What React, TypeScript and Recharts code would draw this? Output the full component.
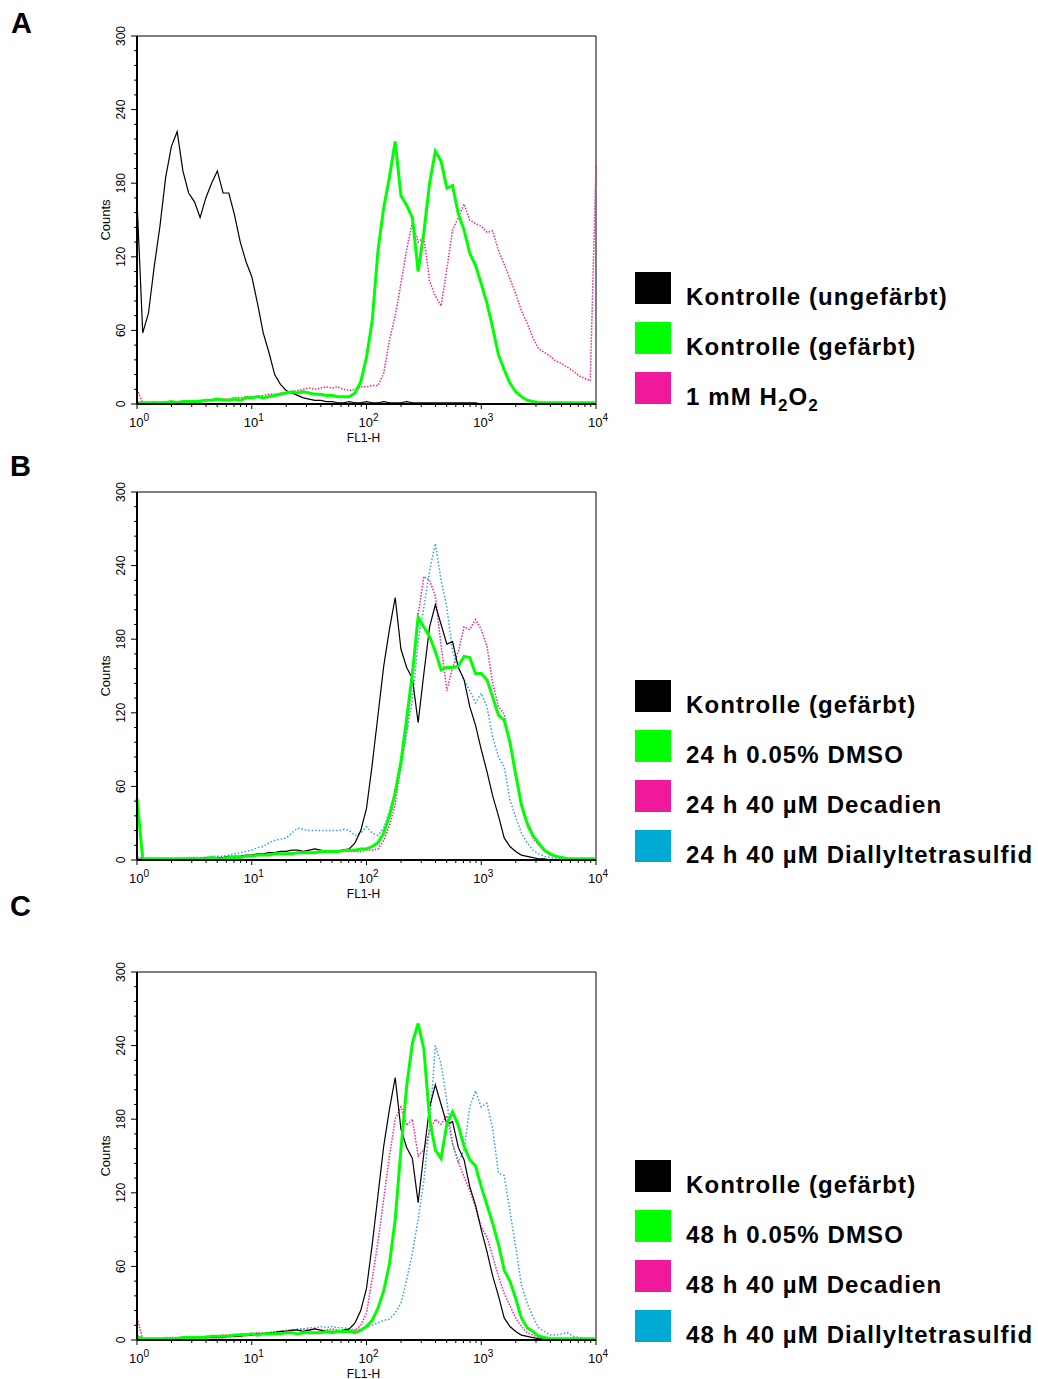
import React from 'react';
import { LineChart, Line, XAxis, YAxis, ReferenceLine } from 'recharts';

// x = log10(FL1-H), read every 0.05 decade
const xs = Array.from({ length: 81 }, (_, i) => +(i * 0.05).toFixed(2));

// y-axis ticks (counts) and x-axis tick positions (log decades, minor 2..9)
const yTicks = [0, 12, 24, 36, 48, 60, 72, 84, 96, 108, 120, 132, 144, 156, 168, 180, 192, 204, 216, 228, 240, 252, 264, 276, 288, 300];
const decades = [0, 1, 2, 3];
const xTicks = [...decades.flatMap((d) => [1, 2, 3, 4, 5, 6, 7, 8, 9].map((k) => d + Math.log10(k))), 4];

// Panel A
const aUnstained = [166, 58, 74, 112, 145, 185, 210, 222, 190, 172, 165, 152, 168, 180, 190, 172, 172, 154, 132, 116, 104, 82, 58, 42, 24, 16, 11, 9, 7, 5, 4, 3, 3, 2, 2, 1, 1, 2, 1, 1, 2, 1, 1, 2, 1, 1, 1, 2, 1, 1, 1, 1, 1, 1, 1, 1, 1, 1, 1, 1, 0, 0, 0, 0, 0, 0, 0, 0, 0, 0, 0, 0, 0, 0, 0, 0, 0, 0, 0, 0, 0];
const aStained = [1, 1, 1, 1, 1, 1, 2, 1, 2, 2, 2, 2, 3, 3, 4, 3, 3, 4, 3, 5, 5, 6, 5, 6, 7, 8, 9, 10, 9, 10, 9, 8, 8, 7, 7, 6, 6, 6, 9, 18, 38, 68, 125, 160, 185, 214, 170, 162, 152, 108, 140, 180, 206, 198, 176, 178, 155, 142, 123, 113, 98, 82, 62, 40, 28, 17, 10, 6, 3, 2, 1, 1, 1, 1, 1, 1, 1, 1, 1, 1, 1];
const aH2O2 = [12, 1, 1, 2, 1, 2, 1, 2, 2, 2, 2, 3, 3, 3, 4, 4, 4, 5, 5, 6, 6, 6, 7, 8, 8, 9, 9, 10, 11, 12, 13, 12, 13, 14, 13, 14, 12, 11, 12, 14, 14, 15, 15, 25, 52, 72, 98, 126, 148, 132, 136, 100, 88, 80, 110, 142, 152, 163, 150, 147, 145, 140, 141, 125, 114, 102, 90, 76, 66, 54, 45, 42, 39, 35, 33, 30, 27, 23, 21, 19, 194];

// Panel B and C share the stained control
const ctrlStained = [1, 0, 1, 0, 1, 1, 1, 1, 1, 1, 1, 1, 2, 2, 2, 2, 3, 3, 3, 4, 4, 5, 5, 6, 6, 7, 7, 8, 8, 7, 8, 9, 8, 7, 7, 7, 8, 9, 14, 24, 42, 78, 118, 158, 188, 214, 172, 157, 148, 112, 152, 190, 208, 192, 176, 178, 157, 147, 125, 110, 90, 72, 52, 36, 18, 11, 7, 4, 3, 2, 1, 1, 0, 0, 0, 0, 0, 0, 0, 0, 0];
const bDmso = [50, 1, 1, 1, 1, 1, 1, 1, 1, 1, 1, 1, 1, 2, 1, 1, 2, 2, 2, 3, 3, 4, 4, 4, 5, 5, 5, 5, 6, 6, 6, 6, 7, 7, 7, 7, 8, 8, 8, 9, 9, 11, 14, 22, 36, 55, 80, 115, 152, 198, 190, 182, 170, 155, 157, 157, 158, 166, 165, 152, 152, 147, 133, 118, 114, 96, 70, 45, 30, 20, 14, 8, 5, 3, 2, 1, 1, 1, 1, 1, 1];
const bDecadien = [3, 1, 1, 1, 1, 1, 1, 1, 1, 1, 2, 1, 2, 2, 2, 2, 2, 3, 3, 3, 3, 4, 4, 4, 5, 5, 5, 6, 6, 6, 6, 7, 6, 7, 7, 6, 7, 7, 7, 7, 8, 8, 9, 16, 28, 45, 78, 105, 150, 200, 231, 228, 215, 175, 138, 157, 170, 190, 188, 196, 188, 174, 144, 125, 119, 95, 68, 45, 28, 18, 12, 7, 4, 3, 2, 1, 1, 1, 1, 1, 1];
const bDats = [2, 1, 1, 1, 1, 1, 1, 1, 1, 2, 2, 2, 2, 3, 3, 3, 4, 5, 6, 7, 8, 10, 11, 14, 16, 17, 18, 22, 26, 25, 24, 24, 24, 24, 24, 24, 25, 24, 20, 22, 27, 22, 20, 26, 40, 55, 74, 103, 130, 178, 206, 236, 258, 228, 206, 170, 157, 147, 138, 128, 136, 125, 100, 84, 76, 49, 35, 22, 14, 8, 5, 3, 2, 1, 1, 1, 1, 1, 1, 1, 1];

// Panel C
const cDmso = [3, 1, 1, 1, 1, 1, 1, 1, 2, 2, 2, 2, 2, 3, 3, 3, 3, 4, 4, 4, 5, 4, 5, 5, 5, 5, 6, 6, 5, 6, 6, 6, 6, 7, 6, 7, 7, 7, 6, 8, 11, 16, 26, 40, 62, 98, 155, 207, 242, 258, 237, 180, 155, 148, 176, 186, 175, 158, 147, 142, 125, 110, 95, 78, 57, 48, 34, 18, 10, 7, 3, 2, 1, 1, 1, 1, 1, 1, 1, 1, 1];
const cDecadien = [18, 1, 1, 1, 1, 2, 2, 2, 2, 2, 2, 2, 3, 3, 3, 4, 4, 4, 5, 5, 5, 6, 6, 6, 7, 7, 8, 8, 8, 9, 8, 9, 8, 8, 9, 8, 8, 8, 8, 12, 22, 50, 80, 115, 150, 180, 190, 175, 180, 150, 155, 170, 180, 176, 183, 160, 145, 133, 122, 108, 92, 84, 68, 52, 38, 28, 18, 11, 6, 4, 2, 1, 1, 1, 1, 1, 1, 1, 1, 1, 1];
const cDats = [3, 1, 1, 1, 1, 1, 1, 2, 2, 2, 2, 2, 3, 3, 3, 3, 3, 4, 4, 4, 5, 5, 5, 6, 6, 7, 7, 8, 9, 9, 10, 10, 11, 10, 11, 10, 10, 9, 8, 9, 11, 12, 14, 16, 17, 22, 30, 49, 71, 98, 130, 175, 240, 225, 195, 160, 145, 155, 190, 203, 190, 193, 172, 136, 134, 105, 76, 45, 30, 19, 10, 7, 4, 4, 5, 6, 3, 2, 1, 1, 1];

const BLACK = '#000000';
const GREEN = '#00ff00';
const PINK = '#f0259a';
const BLUE = '#2e9cf0';

type Series = { key: string; values: number[]; color: string; width: number; dash?: string };

const panelA: Series[] = [
  { key: 'h2o2', values: aH2O2, color: PINK, width: 1.5, dash: '1.5 1.5' },
  { key: 'unstained', values: aUnstained, color: BLACK, width: 1.2 },
  { key: 'stained', values: aStained, color: GREEN, width: 3 },
];
const panelB: Series[] = [
  { key: 'decadien', values: bDecadien, color: PINK, width: 1.5, dash: '1.5 1.5' },
  { key: 'dats', values: bDats, color: BLUE, width: 1.5, dash: '1.5 2' },
  { key: 'ctrl', values: ctrlStained, color: BLACK, width: 1.2 },
  { key: 'dmso', values: bDmso, color: GREEN, width: 3 },
];
const panelC: Series[] = [
  { key: 'decadien', values: cDecadien, color: PINK, width: 1.5, dash: '1.5 1.5' },
  { key: 'dats', values: cDats, color: BLUE, width: 1.5, dash: '1.5 2' },
  { key: 'ctrl', values: ctrlStained, color: BLACK, width: 1.2 },
  { key: 'dmso', values: cDmso, color: GREEN, width: 3 },
];

const legendA = ['Kontrolle (ungefärbt)', 'Kontrolle (gefärbt)', '1 mM H2O2'];
const legendB = ['Kontrolle (gefärbt)', '24 h 0.05% DMSO', '24 h 40 µM Decadien', '24 h 40 µM Diallyltetrasulfid'];
const legendC = ['Kontrolle (gefärbt)', '48 h 0.05% DMSO', '48 h 40 µM Decadien', '48 h 40 µM Diallyltetrasulfid'];
const legendColors = ['#000000', '#00ff00', '#ee1a9b', '#00aad4'];

const FONT = '"Liberation Sans", Arial, sans-serif';

function XTick(props: any) {
  const { x, y, payload } = props;
  const v = payload.value;
  const major = Math.abs(v - Math.round(v)) < 1e-6;
  return (
    <g>
      <line x1={x} x2={x} y1={y} y2={y + (major ? 5 : 3)} stroke="#000" strokeWidth={1} />
      {major && (
        <text x={x - 8} y={y + 23} fontSize={13} fontFamily={FONT} fill="#000">
          10
          <tspan dy={-6} fontSize={10}>{Math.round(v)}</tspan>
        </text>
      )}
    </g>
  );
}

function YTick(props: any) {
  const { x, y, payload } = props;
  const v = payload.value;
  const major = v % 60 === 0;
  return (
    <g>
      <line x1={x} x2={x - (major ? 6 : 3)} y1={y} y2={y} stroke="#000" strokeWidth={1} />
      {major && (
        <text transform={`translate(${x - 12},${y}) rotate(-90)`} textAnchor="middle" fontSize={12} fontFamily={FONT} fill="#000">
          {v}
        </text>
      )}
    </g>
  );
}

function Histogram({ top, series }: { top: number; series: Series[] }) {
  const data = xs.map((x, i) => {
    const row: Record<string, number> = { x };
    series.forEach((s) => (row[s.key] = s.values[i]));
    return row;
  });
  return (
    <div style={{ position: 'absolute', left: 0, top }}>
      <LineChart width={620} height={418} data={data} margin={{ top: 10, right: 24, bottom: 0, left: 0 }}>
        <XAxis
          type="number"
          dataKey="x"
          domain={[0, 4]}
          ticks={xTicks}
          interval={0}
          tick={XTick}
          tickLine={false}
          tickSize={0}
          tickMargin={0}
          axisLine={{ stroke: '#000', strokeWidth: 2 }}
          height={40}
          label={{ value: 'FL1-H', position: 'insideBottom', offset: 2, dx: -3, fontSize: 12, fill: '#000', fontFamily: FONT }}
        />
        <YAxis
          type="number"
          domain={[0, 300]}
          ticks={yTicks}
          interval={0}
          tick={YTick}
          tickLine={false}
          tickSize={0}
          tickMargin={0}
          axisLine={{ stroke: '#000', strokeWidth: 2 }}
          width={137}
          label={{ value: 'Counts', angle: -90, position: 'center', dx: 37, fontSize: 13, fill: '#000', fontFamily: FONT }}
        />
        <ReferenceLine y={300} stroke="#000" strokeWidth={1} ifOverflow="visible" />
        <ReferenceLine x={4} stroke="#000" strokeWidth={1} ifOverflow="visible" />
        {series.map((s) => (
          <Line
            key={s.key}
            type="linear"
            dataKey={s.key}
            stroke={s.color}
            strokeWidth={s.width}
            strokeDasharray={s.dash}
            dot={false}
            activeDot={false}
            isAnimationActive={false}
          />
        ))}
      </LineChart>
    </div>
  );
}

function LegendLabel({ text, y }: { text: string; y: number }) {
  const parts = text.split(/(?<=[HO])(2)/);
  return (
    <text x={686} y={y} fontSize={24} fontWeight="bold" fontFamily={FONT} letterSpacing={1.1} fill="#000">
      {parts.map((p, i) =>
        i % 2 === 1 ? (
          <tspan key={i} dy={6} fontSize={17}>{p}</tspan>
        ) : (
          <tspan key={i} dy={i > 0 ? -6 : 0}>{p}</tspan>
        )
      )}
    </text>
  );
}

function LegendBlock({ items, top }: { items: string[]; top: number }) {
  return (
    <g>
      {items.map((t, i) => (
        <g key={t}>
          <rect x={635} y={top + i * 50} width={36} height={32} fill={legendColors[i]} />
          <LegendLabel text={t} y={top + i * 50 + 33} />
        </g>
      ))}
    </g>
  );
}

export default function App() {
  return (
    <div style={{ position: 'absolute', left: 0, top: 0, width: 1038, height: 1379, background: '#fff', fontFamily: FONT }}>
      <Histogram top={26} series={panelA} />
      <Histogram top={482} series={panelB} />
      <Histogram top={962} series={panelC} />
      <svg width={1038} height={1379} style={{ position: 'absolute', left: 0, top: 0, pointerEvents: 'none' }}>
        <text x={11} y={33} fontSize={29} fontWeight="bold" fontFamily={FONT}>A</text>
        <text x={10} y={476} fontSize={29} fontWeight="bold" fontFamily={FONT}>B</text>
        <text x={10} y={916} fontSize={29} fontWeight="bold" fontFamily={FONT}>C</text>
        <LegendBlock items={legendA} top={272} />
        <LegendBlock items={legendB} top={680} />
        <LegendBlock items={legendC} top={1160} />
      </svg>
    </div>
  );
}
